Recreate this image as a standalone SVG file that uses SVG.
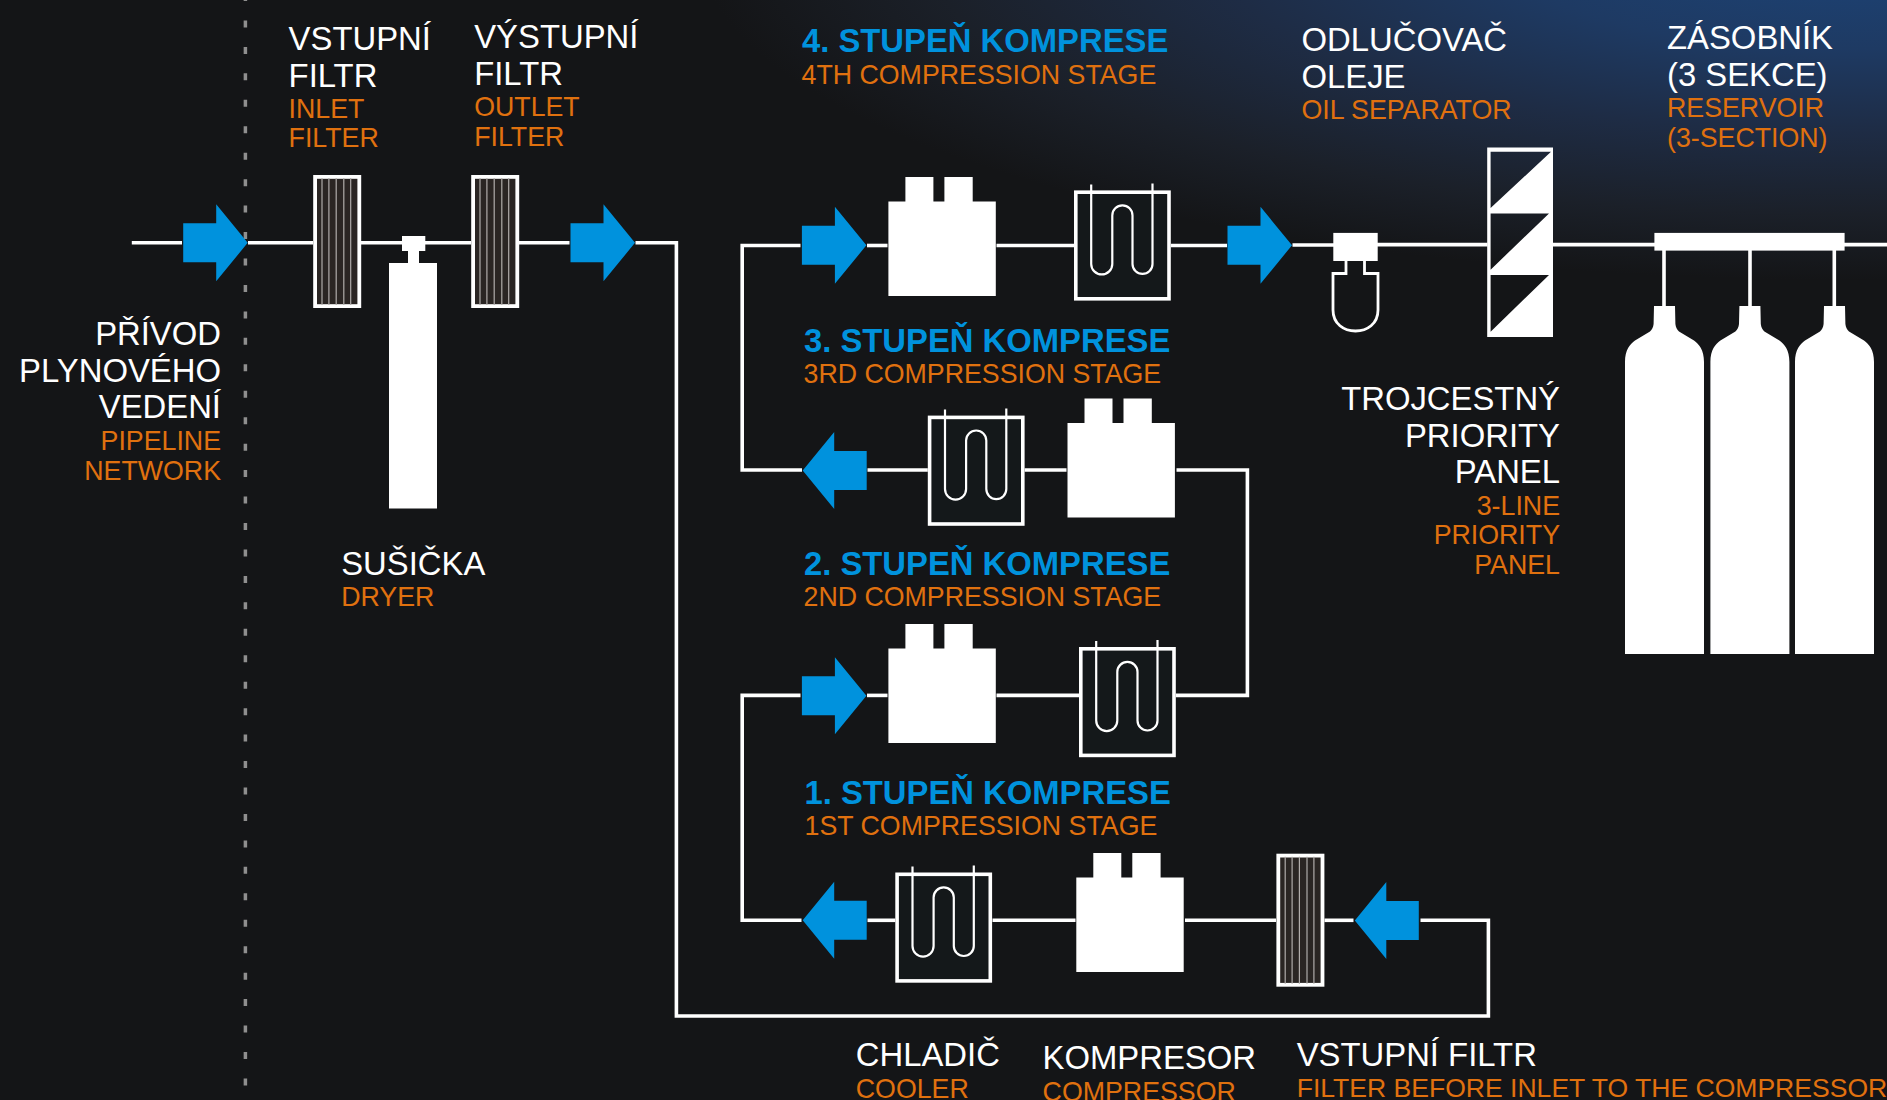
<svg xmlns="http://www.w3.org/2000/svg" xmlns:xlink="http://www.w3.org/1999/xlink" width="1887" height="1100" viewBox="0 0 1887 1100">
<style>
text{font-family:"Liberation Sans",Arial,sans-serif}
.w{fill:#fff;font-size:32.85px}
.o{fill:#e0710f;font-size:26.75px}
.b{fill:#0092dd;font-size:32.8px;font-weight:700}
.e{text-anchor:end}
.c{fill:none;stroke:#fff;stroke-width:3.6}
.a{fill:#0092dd}
.s{fill:#fff}
</style>
<defs>
<radialGradient id="glow" gradientUnits="userSpaceOnUse" cx="0" cy="0" r="1" gradientTransform="translate(1850 -50) scale(1150 330)">
<stop offset="0" stop-color="#1c4478"/><stop offset="0.3" stop-color="#1e3a63"/><stop offset="0.55" stop-color="#1e2c45"/><stop offset="0.8" stop-color="#1b2029"/><stop offset="1" stop-color="#141517"/>
</radialGradient>
<g id="arrowR"><path class="a" d="M0 -19.5H33V-38.5L64.5 0L33 38.5V19.5H0Z"/></g>
<g id="arrowL"><path class="a" d="M0 0L31.5 -38.5V-19.5H64V19.5H31.5V38.5Z"/></g>
<g id="comp"><path class="s" d="M0 24.4H17V0H45V24.4H56V0H84.3V24.4H107.4V119H0Z"/></g>
<g id="cooler">
<rect x="1.8" y="1.8" width="93.2" height="106.6" fill="#14181a" stroke="#fff" stroke-width="3.6"/>
<path d="M17.2 -6V73.5A10.5 10.5 0 0 0 38.3 73.5V25A10.1 10.1 0 0 1 58.5 25V73.5A10 10 0 0 0 78.5 73.5V-7" fill="none" stroke="#fff" stroke-width="2.2"/>
</g>
<g id="filter">
<rect x="1.9" y="1.9" width="44.2" height="129.2" fill="#2a2523" stroke="#fff" stroke-width="3.8"/>
<path d="M8.8 3V130M15.7 3V130M23 3V130M30.6 3V130M37.5 3V130" stroke="#b0acaa" stroke-width="1.2" fill="none"/>
</g>
<path id="cyl" class="s" d="M0 348V56C0 44 5 38 10 34.5L25 25.5C27 24 28.3 21 28.6 18L29 0H50L50.4 18C50.7 21 52 24 54 25.5L69 34.5C74 38 79 44 79 56V348Z"/>
</defs>

<rect id="background" width="1887" height="1100" fill="#141517"/>
<rect width="1887" height="1100" fill="url(#glow)"/>
<path id="boundary" d="M245.4 -6V1100" fill="none" stroke="#8f8f8f" stroke-width="3.5" stroke-dasharray="7 19.45"/>

<g id="connectors" class="c">
<path d="M131.8 242.8H182"/>
<path d="M248 242.8H313"/>
<path d="M361 242.8H471"/>
<path d="M519 242.8H569.5"/>
<path d="M635.5 242.8H676.4V1016H1488.4V920.3H1420.5"/>
<path d="M1353.5 920.3H1324.5"/>
<path d="M1276 920.3H1185"/>
<path d="M1075.5 920.3H992.5"/>
<path d="M895.3 920.3H867.5"/>
<path d="M801.5 920.3H742.2V695.4H800.5"/>
<path d="M867 695.4H887.5"/>
<path d="M996.5 695.4H1079"/>
<path d="M1175.8 695.4H1247.4V470H1176.5"/>
<path d="M1066.5 470H1024.6"/>
<path d="M927.8 470H867.5"/>
<path d="M802 470H742.2V245.5H800.5"/>
<path d="M867 245.5H887.5"/>
<path d="M996.5 245.5H1074"/>
<path d="M1170.8 245.5H1227"/>
<path d="M1292.5 245H1334"/>
<path d="M1377 244.6H1487.5"/>
<path d="M1553 244.6H1655"/>
<path d="M1844 244.6H1887"/>
<path d="M1664 250V307M1750 250V307M1834.3 250V307"/>
</g>

<g id="pipeline-arrow"><use href="#arrowR" x="183.2" y="242.8"/></g>
<g id="inlet-filter"><use href="#filter" x="313.2" y="175"/></g>
<g id="dryer"><path class="s" d="M389 263H408V251H402V236H425.3V251H419V263H437V508.6H389Z"/></g>
<g id="outlet-filter"><use href="#filter" x="471.2" y="175"/></g>
<g id="feed-arrow"><use href="#arrowR" x="570.5" y="242.8"/></g>

<g id="stage4"><use href="#arrowR" x="801.9" y="245.3"/><use href="#comp" x="888.4" y="177"/><use href="#cooler" x="1074" y="190.4"/><use href="#arrowR" x="1227.5" y="245.3"/></g>
<g id="stage3"><use href="#arrowL" x="802.7" y="470.5"/><use href="#cooler" x="927.8" y="415.6"/><use href="#comp" x="1067.5" y="398.5"/></g>
<g id="stage2"><use href="#arrowR" x="801.9" y="695.8"/><use href="#comp" x="888.4" y="624"/><use href="#cooler" x="1079" y="647"/></g>
<g id="stage1"><use href="#arrowL" x="802.7" y="920.3"/><use href="#cooler" x="895.3" y="872.5"/><use href="#comp" x="1076.3" y="853"/><use href="#filter" x="1276.4" y="853.7"/><use href="#arrowL" x="1354.8" y="920.5"/></g>

<g id="oil-separator">
<rect class="s" x="1333.3" y="232.9" width="44.4" height="28.1"/>
<path d="M1346 261V273.5H1333V310C1333 324 1344 331 1355.5 331C1367 331 1378 324 1378 310V273.5H1364.5V261" fill="none" stroke="#fff" stroke-width="2.8"/>
</g>
<g id="priority-panel"><path class="s" fill-rule="evenodd" d="M1487.2 147.4H1553V337H1487.2ZM1490.6 151.8V208L1551 151.8ZM1490.6 213.4V269.7L1549 213.4ZM1490.6 275V331.7L1549 275Z"/></g>
<g id="reservoir">
<rect class="s" x="1654.4" y="232.9" width="190.2" height="17.7"/>
<use href="#cyl" x="1625" y="306"/><use href="#cyl" x="1710.4" y="306"/><use href="#cyl" x="1795" y="306"/>
</g>

<g id="labels">
<text class="w" x="288.6" y="50">VSTUPNÍ</text><text class="w" x="288.6" y="86.8">FILTR</text>
<text class="o" x="288.6" y="117.8">INLET</text><text class="o" x="288.6" y="147.4">FILTER</text>
<text class="w" x="474.2" y="47.5">VÝSTUPNÍ</text><text class="w" x="474.2" y="84.8">FILTR</text>
<text class="o" x="474.2" y="116">OUTLET</text><text class="o" x="474.2" y="145.7">FILTER</text>
<text class="w e" x="221" y="345">PŘÍVOD</text><text class="w e" x="221" y="381.7">PLYNOVÉHO</text><text class="w e" x="221" y="418.3">VEDENÍ</text>
<text class="o e" x="221" y="450">PIPELINE</text><text class="o e" x="221" y="480">NETWORK</text>
<text class="w" x="341.2" y="575">SUŠIČKA</text><text class="o" x="341.2" y="605.7">DRYER</text>
<text class="b" x="802" y="52.3">4. STUPEŇ KOMPRESE</text><text class="o" x="801.5" y="83.7">4TH COMPRESSION STAGE</text>
<text class="b" x="804" y="352">3. STUPEŇ KOMPRESE</text><text class="o" x="803.5" y="383">3RD COMPRESSION STAGE</text>
<text class="b" x="804" y="574.6">2. STUPEŇ KOMPRESE</text><text class="o" x="803.5" y="606">2ND COMPRESSION STAGE</text>
<text class="b" x="804.5" y="803.6">1. STUPEŇ KOMPRESE</text><text class="o" x="804.5" y="834.6">1ST COMPRESSION STAGE</text>
<text class="w" x="855.8" y="1066.4">CHLADIČ</text><text class="o" x="855.8" y="1097.9">COOLER</text>
<text class="w" x="1042.6" y="1069">KOMPRESOR</text><text class="o" x="1042.6" y="1100.7">COMPRESSOR</text>
<text class="w" x="1296.7" y="1065.7">VSTUPNÍ FILTR</text><text class="o" x="1296.7" y="1096.7" style="font-size:26.55px">FILTER BEFORE INLET TO THE COMPRESSOR</text>
<text class="w" x="1301.5" y="51.2">ODLUČOVAČ</text><text class="w" x="1301.5" y="88">OLEJE</text><text class="o" x="1301.5" y="119.3">OIL SEPARATOR</text>
<text class="w" x="1667" y="49">ZÁSOBNÍK</text><text class="w" x="1667" y="85.9">(3 SEKCE)</text>
<text class="o" x="1667" y="117">RESERVOIR</text><text class="o" x="1667" y="146.6">(3-SECTION)</text>
<text class="w e" x="1560" y="409.8">TROJCESTNÝ</text><text class="w e" x="1560" y="446.7">PRIORITY</text><text class="w e" x="1560" y="482.6">PANEL</text>
<text class="o e" x="1560" y="514.7">3-LINE</text><text class="o e" x="1560" y="544.2">PRIORITY</text><text class="o e" x="1560" y="574">PANEL</text>
</g>
</svg>
